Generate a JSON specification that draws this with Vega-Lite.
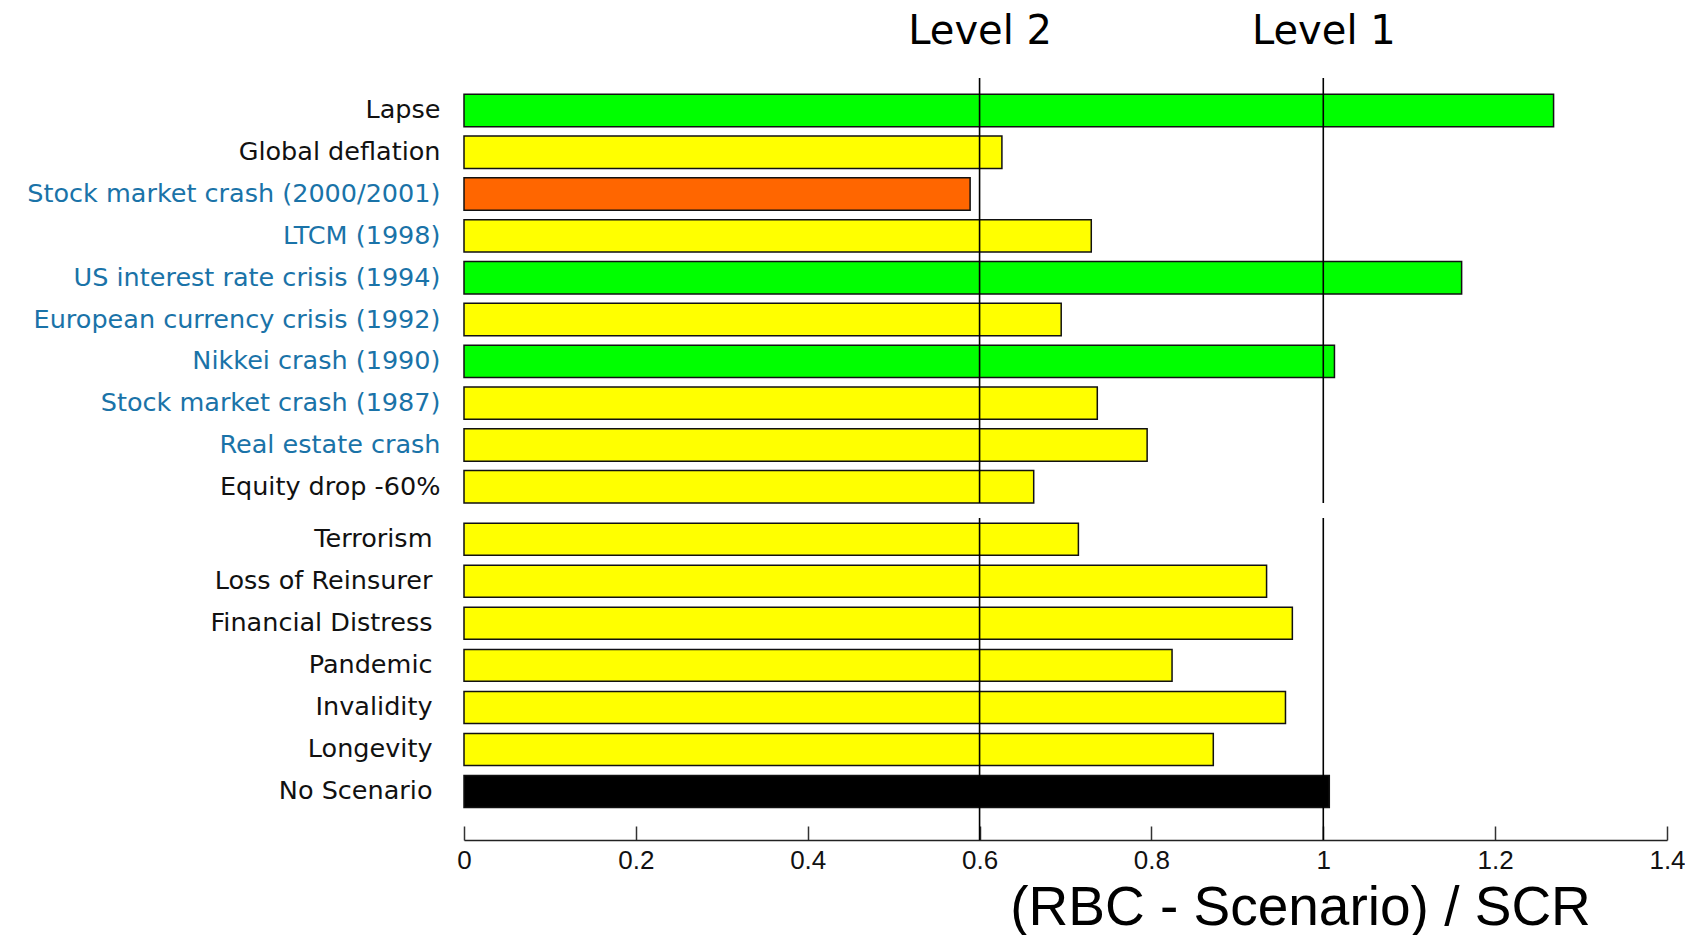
{
  "$schema": "https://vega.github.io/schema/vega-lite/v6.json",
  "background": "white",
  "padding": {"left": 26, "top": 11, "right": 10, "bottom": 0},
  "config": {"view": {"stroke": null}, "axis": {"grid": false}, "font": "DejaVu Sans"},
  "spacing": 13,
  "data": {"values": [
    {"panel": "market", "scenario": "Lapse", "ratio": 1.268, "status": "green"},
    {"panel": "market", "scenario": "Global deflation", "ratio": 0.626, "status": "yellow"},
    {"panel": "market", "scenario": "Stock market crash (2000/2001)", "ratio": 0.589, "status": "orange"},
    {"panel": "market", "scenario": "LTCM (1998)", "ratio": 0.730, "status": "yellow"},
    {"panel": "market", "scenario": "US interest rate crisis (1994)", "ratio": 1.161, "status": "green"},
    {"panel": "market", "scenario": "European currency crisis (1992)", "ratio": 0.695, "status": "yellow"},
    {"panel": "market", "scenario": "Nikkei crash (1990)", "ratio": 1.013, "status": "green"},
    {"panel": "market", "scenario": "Stock market crash (1987)", "ratio": 0.737, "status": "yellow"},
    {"panel": "market", "scenario": "Real estate crash", "ratio": 0.795, "status": "yellow"},
    {"panel": "market", "scenario": "Equity drop -60%", "ratio": 0.663, "status": "yellow"},
    {"panel": "insurance", "scenario": "Terrorism", "ratio": 0.715, "status": "yellow"},
    {"panel": "insurance", "scenario": "Loss of Reinsurer", "ratio": 0.934, "status": "yellow"},
    {"panel": "insurance", "scenario": "Financial Distress", "ratio": 0.964, "status": "yellow"},
    {"panel": "insurance", "scenario": "Pandemic", "ratio": 0.824, "status": "yellow"},
    {"panel": "insurance", "scenario": "Invalidity", "ratio": 0.956, "status": "yellow"},
    {"panel": "insurance", "scenario": "Longevity", "ratio": 0.872, "status": "yellow"},
    {"panel": "insurance", "scenario": "No Scenario", "ratio": 1.007, "status": "none"}
  ]},
  "vconcat": [
    {
      "width": 1203,
      "height": 425,
      "layer": [
        {
          "transform": [{"filter": "datum.panel == 'market'"}],
          "mark": {"type": "bar", "stroke": "#111111", "strokeWidth": 1.5},
          "encoding": {
            "y": {
              "field": "scenario", "type": "nominal", "sort": null,
              "scale": {"paddingInner": 0.225, "paddingOuter": 0.194, "align": 1},
              "axis": {
                "title": null, "domain": false, "ticks": false, "tickSize": 0,
                "labelPadding": 24, "labelFontSize": 25.5, "labelLimit": 700,
                "labelFont": "DejaVu Sans",
                "labelColor": {
                  "condition": {
                    "test": "indexof(['Stock market crash (2000/2001)','LTCM (1998)','US interest rate crisis (1994)','European currency crisis (1992)','Nikkei crash (1990)','Stock market crash (1987)','Real estate crash'], datum.value) >= 0",
                    "value": "#1a73a8"
                  },
                  "value": "#111111"
                }
              }
            },
            "x": {
              "field": "ratio", "type": "quantitative",
              "scale": {"domain": [0, 1.4], "nice": false},
              "axis": {
                "orient": "top", "values": [0.6, 1],
                "labelExpr": "datum.value == 0.6 ? 'Level 2' : 'Level 1'",
                "domain": false, "ticks": false, "tickSize": 0,
                "labelFont": "DejaVu Sans", "labelFontSize": 40, "labelColor": "#000000",
                "labelBaseline": "alphabetic", "labelPadding": 35,
                "labelFlush": false, "labelOverlap": false, "title": null
              }
            },
            "color": {
              "field": "status", "type": "nominal",
              "scale": {"domain": ["green", "yellow", "orange", "none"], "range": ["#00ff00", "#ffff00", "#ff6600", "#000000"]},
              "legend": null
            }
          }
        },
        {
          "data": {"values": [{"level": 0.6}, {"level": 1.0}]},
          "mark": {"type": "rule", "color": "#000000", "strokeWidth": 1.6},
          "encoding": {"x": {"field": "level", "type": "quantitative"}}
        }
      ]
    },
    {
      "width": 1203,
      "height": 322,
      "layer": [
        {
          "transform": [{"filter": "datum.panel == 'insurance'"}],
          "mark": {"type": "bar", "stroke": "#111111", "strokeWidth": 1.5},
          "encoding": {
            "y": {
              "field": "scenario", "type": "nominal", "sort": null,
              "scale": {"paddingInner": 0.239, "paddingOuter": 0.45, "align": 0.14},
              "axis": {
                "title": null, "domain": false, "ticks": false, "tickSize": 0,
                "labelPadding": 32, "labelFontSize": 25.5, "labelLimit": 700,
                "labelFont": "DejaVu Sans", "labelColor": "#111111"
              }
            },
            "x": {
              "field": "ratio", "type": "quantitative",
              "scale": {"domain": [0, 1.4], "nice": false},
              "axis": {
                "values": [0, 0.2, 0.4, 0.6, 0.8, 1, 1.2, 1.4],
                "labelExpr": "format(datum.value, '~g')",
                "domainColor": "#222222", "domainWidth": 1.5,
                "tickColor": "#333333", "tickWidth": 1.5, "tickSize": -14,
                "labelFont": "Liberation Sans", "labelFontSize": 26, "labelColor": "#111111",
                "labelPadding": 21, "labelFlush": false, "labelOverlap": false,
                "title": "(RBC - Scenario) / SCR",
                "titleFont": "Liberation Sans", "titleFontSize": 55, "titleFontWeight": "normal",
                "titleColor": "#000000", "titleX": 836, "titleY": 84,
                "titleAlign": "center", "titleBaseline": "alphabetic"
              }
            },
            "color": {
              "field": "status", "type": "nominal",
              "scale": {"domain": ["green", "yellow", "orange", "none"], "range": ["#00ff00", "#ffff00", "#ff6600", "#000000"]},
              "legend": null
            }
          }
        },
        {
          "data": {"values": [{"level": 0.6}, {"level": 1.0}]},
          "mark": {"type": "rule", "color": "#000000", "strokeWidth": 1.6},
          "encoding": {"x": {"field": "level", "type": "quantitative"}}
        }
      ]
    }
  ]
}
